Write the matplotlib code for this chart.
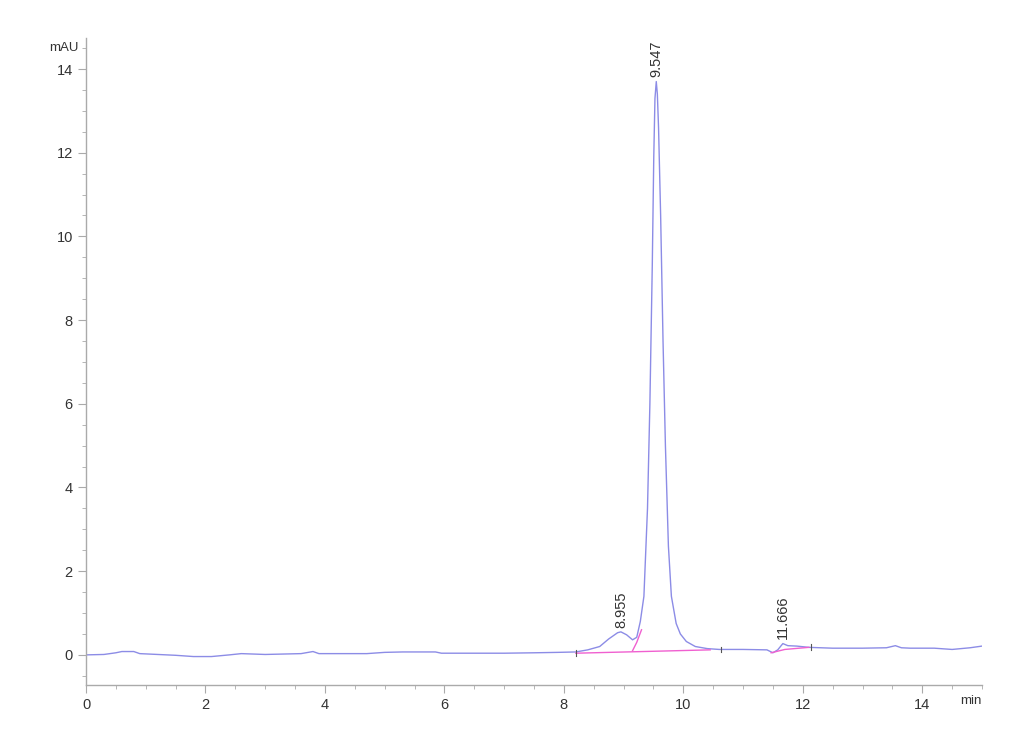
import numpy as np
import matplotlib.pyplot as plt
from matplotlib.ticker import MultipleLocator

# chromatogram trace (min, mAU)
t = [0.0, 0.3, 0.5, 0.6, 0.8, 0.9, 1.2, 1.5, 1.8, 2.1, 2.4, 2.6, 3.0, 3.3, 3.6, 3.8, 3.9,
     4.3, 4.7, 5.0, 5.3, 5.6, 5.85, 5.95, 6.5, 7.0, 7.5, 7.9, 8.2, 8.4, 8.6, 8.75, 8.9,
     8.955, 9.05, 9.15, 9.22, 9.28, 9.34, 9.40, 9.44, 9.48, 9.505, 9.525, 9.547, 9.565,
     9.585, 9.62, 9.66, 9.70, 9.75, 9.80, 9.88, 9.95, 10.05, 10.2, 10.4, 10.6, 11.0,
     11.4, 11.5, 11.58, 11.666, 11.75, 11.9, 12.1, 12.5, 13.0, 13.4, 13.55, 13.65,
     13.8, 14.2, 14.5, 14.8, 15.0]
signal = [0.0, 0.01, 0.05, 0.08, 0.08, 0.03, 0.01, -0.01, -0.04, -0.04, 0.0, 0.03, 0.01,
          0.02, 0.03, 0.08, 0.03, 0.03, 0.03, 0.06, 0.07, 0.07, 0.07, 0.04, 0.04, 0.04,
          0.05, 0.06, 0.07, 0.12, 0.2, 0.38, 0.53, 0.55, 0.48, 0.36, 0.42, 0.8, 1.4,
          3.5, 6.0, 9.3, 11.9, 13.3, 13.7, 13.4, 12.6, 10.5, 7.5, 5.0, 2.6, 1.4, 0.75,
          0.5, 0.32, 0.2, 0.15, 0.13, 0.13, 0.12, 0.05, 0.12, 0.27, 0.22, 0.21, 0.18,
          0.16, 0.16, 0.17, 0.22, 0.17, 0.16, 0.16, 0.13, 0.17, 0.21]

# integration baselines
base1_t = [8.2, 10.45]
base1_y = [0.04, 0.12]
split_t = [9.15, 9.22, 9.3]
split_y = [0.1, 0.3, 0.6]
base2_t = [11.47, 11.7, 12.1]
base2_y = [0.05, 0.13, 0.18]

peak_t = [8.955, 9.547, 11.666]
peak_h = [0.55, 13.7, 0.27]
peak_lbl = ["8.955", "9.547", "11.666"]

marks_t = [8.2, 10.63, 12.14]
marks_y = [0.04, 0.12, 0.18]

plt.rcParams['font.family'] = ['Liberation Sans', 'DejaVu Sans']
fig = plt.figure(figsize=(10.3, 7.55), dpi=100)
ax = fig.add_axes([0.0835, 0.0927, 0.8699, 0.8569])

ax.plot(t, signal, color='#8c8ce6', lw=1.0)
ax.plot(base1_t, base1_y, color='#f060d0', lw=1.0)
ax.plot(split_t, split_y, color='#f060d0', lw=1.0)
ax.plot(base2_t, base2_y, color='#f060d0', lw=1.0)

for mt, my in zip(marks_t, marks_y):
    ax.plot([mt, mt], [my - 0.06, my + 0.08], color='#555555', lw=0.8)

for pt, ph, lbl in zip(peak_t, peak_h, peak_lbl):
    ax.annotate(lbl, (pt, ph), xytext=(0, 3), textcoords='offset points',
                rotation=90, ha='center', va='bottom', fontsize=10.5, color='#333333')

ax.set_xlim(0, 15.0)
ax.set_ylim(-0.72, 14.74)

for s in ['top', 'right']:
    ax.spines[s].set_visible(False)
for s in ['left', 'bottom']:
    ax.spines[s].set_color('#aaaaaa')
    ax.spines[s].set_linewidth(1.0)

ax.xaxis.set_major_locator(MultipleLocator(2))
ax.xaxis.set_minor_locator(MultipleLocator(0.5))
ax.yaxis.set_major_locator(MultipleLocator(2))
ax.yaxis.set_minor_locator(MultipleLocator(0.5))
ax.tick_params(which='major', length=6, color='#aaaaaa', labelsize=10.5, labelcolor='#333333')
ax.tick_params(which='minor', length=3, color='#aaaaaa')
ax.set_xticks([0, 2, 4, 6, 8, 10, 12, 14])
ax.set_yticks([0, 2, 4, 6, 8, 10, 12, 14])

ax.text(-0.12, 14.5, "mAU", ha='right', va='center', fontsize=9.5, color='#333333')
ax.text(15.0, -0.95, "min", ha='right', va='top', fontsize=9.5, color='#333333')

fig.savefig("out.png", dpi=100)
